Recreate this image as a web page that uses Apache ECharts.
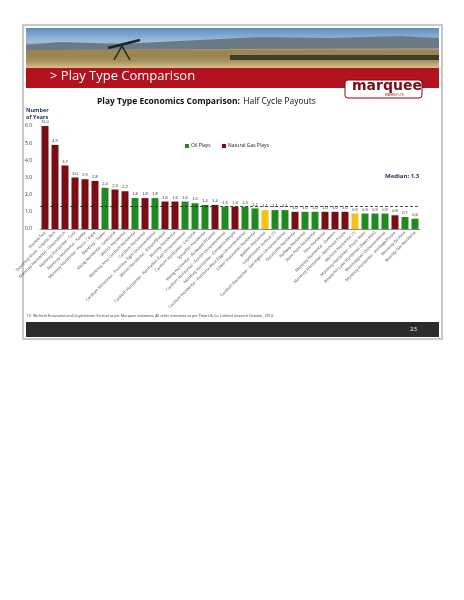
<!DOCTYPE html>
<html><head><meta charset="utf-8">
<script src="https://cdn.jsdelivr.net/npm/echarts@6/dist/echarts.min.js"></script>
<style>html,body{margin:0;padding:0;background:#fff}#c{width:464px;height:600px}</style>
</head><body><div id="c"></div>
<script>
const categories = ["Shallow Gas","Duvernay Shale - Liquids Rich","Montney Horizontal - Groundbirch","Montney Horizontal - Cecil","Montney Horizontal - Kakwa","Montney Horizontal - Pouce Coupe","Montney - Tower","Viking Horizontal - Dodsland","Wilrich Horizontal","Montney Area Cardium Horizontal","Cardium Horizontal","Cardium Horizontal - Pembina Tight Unconventional","Wilrich Horizontal - Edson/Wildcat","Bluesky Horizontal","Cardium Horizontal - Harmattan East Unconventional","Cardium Horizontal - Lochend","Spearfish Horizontal","Viking Horizontal - Redwater/Provost","Cardium Horizontal - Ferrier Unconventional","Montney Horizontal - Elmworth/Wapiti","Cardium Horizontal - Pembina West Edge Unconventional","Lower Shaunavon Horizontal","Bakken Horizontal","Lloydminster Vertical (1)","Cardium Horizontal - Garrington Unconventional","Glauconite Horizontal","Halfway Horizontal","Slave Point Horizontal","Dina Horizontal","Montney Horizontal - Dawson","Montney Horizontal - Northeast Pouce","Wichichi Horizontal (1)","Montney Horizontal - Peace River","Beaverhill Lake Horizontal (Swan Hills)","Mississippian Unconventional","Montney Horizontal - Heritage/Pouce","Montney Oil Field","Bluesky Gas Manitoba"];
const payoutYears = [11.0,4.9,3.7,3.0,2.9,2.8,2.4,2.3,2.2,1.8,1.8,1.8,1.6,1.6,1.6,1.5,1.4,1.4,1.3,1.3,1.3,1.2,1.1,1.1,1.1,1.0,1.0,1.0,1.0,1.0,1.0,0.9,0.9,0.9,0.9,0.8,0.7,0.6];
const playType = ["G","G","G","G","G","G","O","G","G","O","G","O","G","G","O","O","O","G","O","G","O","O","M","O","O","G","O","O","G","G","G","M","O","O","O","G","O","O"];
const yTicks = [0,1,2,3,4,5,6];
const median = 1.3;
const colors = {O:"#1f8a1f", G:"#7a0c14", M:"#f2c318"};
const axisMax = 6;

const chart = echarts.init(document.getElementById('c'));
chart.setOption({
  animation:false,
  backgroundColor:'#fff',
  graphic:[
    {type:'rect',shape:{x:22,y:24,width:421,height:316},style:{fill:'#c8c8c8'},z:-10},
    {type:'rect',shape:{x:24,y:26,width:417,height:312},style:{fill:'#fff'},z:-9},
    {type:'rect',shape:{x:26,y:28,width:413,height:40},style:{fill:new echarts.graphic.LinearGradient(0,0,0,1,[{offset:0,color:'#5f8fc0'},{offset:0.35,color:'#9fc0dc'},{offset:0.45,color:'#7c8a8c'},{offset:0.6,color:'#b9a77a'},{offset:0.8,color:'#a08a55'},{offset:1,color:'#d4c290'}])},z:-8},
    {type:'polygon',shape:{points:[[26,45],[60,42],[120,44],[200,40],[260,37],[330,38],[400,36],[439,38],[439,48],[26,50]]},style:{fill:'#6c7a86'},z:-7},
    {type:'rect',shape:{x:26,y:50,width:413,height:8},style:{fill:'#9b8652'},z:-7},
    {type:'rect',shape:{x:230,y:55,width:209,height:5},style:{fill:'#3a3f2a'},z:-7},
    {type:'polyline',shape:{points:[[114,60],[122,46],[130,60]]},style:{stroke:'#222',lineWidth:1.5,fill:null},z:-6},
    {type:'polyline',shape:{points:[[108,48],[140,40]]},style:{stroke:'#222',lineWidth:2.5},z:-6},
    {type:'rect',shape:{x:26,y:68,width:413,height:20},style:{fill:'#b3121f'},z:-8},
    {type:'text',left:50,top:70,style:{text:'> Play Type Comparison',fill:'#fff',font:'13px "Open Sans", sans-serif'}},
    {type:'rect',shape:{x:345,y:80,width:77,height:18,r:3},style:{fill:'#fff',stroke:'#7a0c14',lineWidth:1},z:-5},
    {type:'text',left:352,top:79,style:{text:'marquee',fill:'#7a0c14',font:'bold 14px "DejaVu Sans", sans-serif'}},
    {type:'text',left:385,top:94,style:{text:'ENERGY LTD',fill:'#7a0c14',font:'3px sans-serif'}},
    {type:'text',left:97,top:96,style:{rich:{a:{font:'bold 8.5px "Open Sans", sans-serif',fill:'#111'},b:{font:'8.5px "Open Sans", sans-serif',fill:'#111'}},text:'{a|Play Type Economics Comparison:} {b|Half Cycle Payouts}'}},
    {type:'text',left:26,top:107,style:{text:'Number\nof Years',fill:'#1f2f55',font:'bold 5.5px "Open Sans", sans-serif',lineHeight:7}},
    {type:'text',left:385,top:173,style:{text:'Median: 1.3',fill:'#1f2f55',font:'bold 6px "Open Sans", sans-serif'}},
    {type:'rect',shape:{x:185,y:144,width:4,height:4},style:{fill:colors.O}},
    {type:'text',left:191,top:143,style:{text:'Oil Plays',fill:'#222',font:'5px "Open Sans", sans-serif'}},
    {type:'rect',shape:{x:222,y:144,width:4,height:4},style:{fill:colors.G}},
    {type:'text',left:228,top:143,style:{text:'Natural Gas Plays',fill:'#222',font:'5px "Open Sans", sans-serif'}},
    {type:'text',left:27,top:314,style:{text:'(1)  Wichichi Horizontal and Lloydminster Vertical as per Marquee estimates. All other estimates as per Peters & Co. Limited research October, 2014.',fill:'#333',font:'3.6px "Open Sans", sans-serif'}},
    {type:'rect',shape:{x:26,y:322,width:413,height:15},style:{fill:'#2c2c2c'},z:-8},
    {type:'text',left:410,top:326,style:{text:'23',fill:'#fff',font:'6px "Open Sans", sans-serif'}}
  ],
  grid:{left:40,right:44,top:126,bottom:371},
  xAxis:{type:'category',data:categories,
    axisLine:{lineStyle:{color:'#888'}},axisTick:{show:false},
    axisLabel:{interval:0,rotate:45,fontSize:4,color:'#444',margin:3,fontFamily:'"Open Sans", sans-serif'}},
  yAxis:{type:'value',min:0,max:axisMax,interval:1,
    axisLabel:{fontSize:5,color:'#333',formatter:v=>yTicks.includes(v)?v.toFixed(1):'',fontFamily:'"Open Sans", sans-serif'},
    axisLine:{show:false},axisTick:{show:false},splitLine:{show:false}},
  series:[{type:'bar',barCategoryGap:'30%',
    data:payoutYears.map((v,i)=>({value:Math.min(v,axisMax),itemStyle:{color:colors[playType[i]]}})),
    label:{show:true,position:'top',fontSize:4,color:'#333',distance:2,formatter:p=>payoutYears[p.dataIndex].toFixed(1)},
    markLine:{symbol:'none',silent:true,label:{show:false},lineStyle:{color:'#222',type:[3,2],width:0.8},data:[{yAxis:median}]}
  }]
});
</script></body></html>
